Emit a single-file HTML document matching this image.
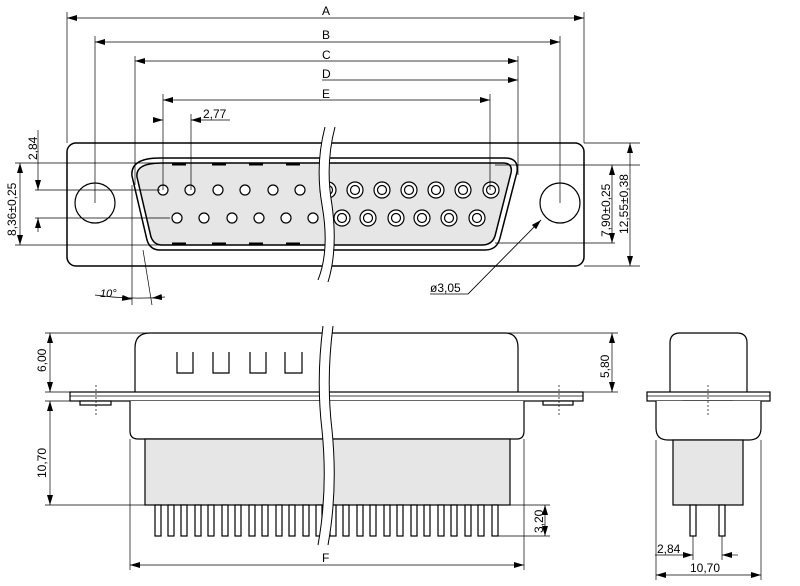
<!DOCTYPE html>
<html><head><style>body{margin:0;background:#fff}svg{display:block}</style></head><body>
<svg width="800" height="586" viewBox="0 0 800 586" xmlns="http://www.w3.org/2000/svg" font-family="Liberation Sans, sans-serif" font-size="12">
<defs>
<marker id="a" viewBox="0 0 10 6" refX="10" refY="3" markerWidth="10" markerHeight="6" orient="auto-start-reverse" markerUnits="userSpaceOnUse"><path d="M0,0L10,3L0,6z" fill="#000"/></marker>
</defs>
<g stroke="#000" fill="none" stroke-width="1.2">
<!-- TOP VIEW -->
<rect x="67" y="143" width="517" height="123" rx="9" fill="#fff" stroke-width="1.5"/>
<circle cx="95" cy="203" r="20" fill="#fff"/>
<circle cx="560" cy="203" r="20" fill="#fff"/>
<path d="M160,158 L505,158 Q519,158 517,172 L500,238 Q497,250 485,250 L160,250 Q150,250 147,240 L132,176 Q130,158 160,158z" fill="#fff" stroke-width="1.5"/>
<path d="M162,163 L503,163 Q513,163 511,173 L495,236 Q492,245 482,245 L162,245 Q154,245 151,237 L137,177 Q135,163 162,163z" fill="#e6e6e6" stroke-width="1.5"/>
<g stroke-width="3"><path d="M172,164h14M212,164h14M249,164h14M286,164h14M172,244h14M212,244h14M249,244h14M286,244h14"/></g>
<g fill="#fff">
<circle cx="163" cy="190" r="5"/><circle cx="190" cy="190" r="5"/><circle cx="218" cy="190" r="5"/><circle cx="245" cy="190" r="5"/><circle cx="273" cy="190" r="5"/><circle cx="300" cy="190" r="5"/>
<circle cx="177" cy="218" r="5"/><circle cx="204" cy="218" r="5"/><circle cx="232" cy="218" r="5"/><circle cx="259" cy="218" r="5"/><circle cx="286" cy="218" r="5"/><circle cx="313" cy="218" r="5"/>
</g>
<g fill="#fff">
<circle cx="328" cy="190" r="8"/><circle cx="355" cy="190" r="8"/><circle cx="382" cy="190" r="8"/><circle cx="409" cy="190" r="8"/><circle cx="436" cy="190" r="8"/><circle cx="463" cy="190" r="8"/><circle cx="491" cy="190" r="8"/>
<circle cx="342" cy="218" r="8"/><circle cx="368" cy="218" r="8"/><circle cx="396" cy="218" r="8"/><circle cx="422" cy="218" r="8"/><circle cx="449" cy="218" r="8"/><circle cx="477" cy="218" r="8"/>
<circle cx="328" cy="190" r="4.5"/><circle cx="355" cy="190" r="4.5"/><circle cx="382" cy="190" r="4.5"/><circle cx="409" cy="190" r="4.5"/><circle cx="436" cy="190" r="4.5"/><circle cx="463" cy="190" r="4.5"/><circle cx="491" cy="190" r="4.5"/>
<circle cx="342" cy="218" r="4.5"/><circle cx="368" cy="218" r="4.5"/><circle cx="396" cy="218" r="4.5"/><circle cx="422" cy="218" r="4.5"/><circle cx="449" cy="218" r="4.5"/><circle cx="477" cy="218" r="4.5"/>
</g>
<path d="M325,127 Q315,165 322,205 Q330,250 318,280 L328,282 Q338,250 332,205 Q325,165 335,127z" fill="#fff" stroke="none"/>
<path d="M325,127 Q315,165 322,205 Q330,250 318,280 M335,127 Q325,165 332,205 Q338,250 328,282" stroke-width="1"/>
</g>
<g stroke="#000" stroke-width="0.7" fill="none">
<path d="M67,143V12M584,143V12M95,203V36M560,203V36M135,185V56M518,175V56M518,170V75M490,190V94M163,190V94M191,190V114"/>
<path d="M67,18H584" marker-start="url(#a)" marker-end="url(#a)"/>
<path d="M95,42H560" marker-start="url(#a)" marker-end="url(#a)"/>
<path d="M135,61H518" marker-start="url(#a)" marker-end="url(#a)"/>
<path d="M322,80H518" marker-end="url(#a)"/>
<path d="M163,100H490" marker-start="url(#a)" marker-end="url(#a)"/>
<path d="M153,120H163" marker-end="url(#a)"/><path d="M201,120H191" marker-end="url(#a)"/><path d="M191,120H230"/>
<path d="M35,163H160M35,190H160M35,218H170M15,245H160M15,163H35"/>
<path d="M38,130V190"/><path d="M38,180V190" marker-end="url(#a)"/><path d="M38,228V218" marker-end="url(#a)"/><path d="M38,218V232"/>
<path d="M20,163V245" marker-start="url(#a)" marker-end="url(#a)"/>
<path d="M495,165H640M495,243H615M584,266H640M584,143H640"/>
<path d="M612,165V243" marker-start="url(#a)" marker-end="url(#a)"/>
<path d="M630,143V266" marker-start="url(#a)" marker-end="url(#a)"/>
<path d="M430,294H468L541,220" /><path d="M468,294L541,220" marker-end="url(#a)"/>
<path d="M132,185V305M143,250L152,305"/>
<path d="M95,295Q130,300 165,297"/>
<path d="M123,298L132,299" marker-end="url(#a)"/><path d="M162,297L152,298" marker-end="url(#a)"/>
</g>
<g font-size="12">
<text x="322" y="15">A</text><text x="322" y="39">B</text><text x="322" y="59">C</text><text x="322" y="78">D</text><text x="322" y="98">E</text>
<text x="203" y="118">2,77</text>
<text transform="translate(37,160) rotate(-90)">2,84</text>
<text transform="translate(16,236) rotate(-90)">8,36±0,25</text>
<text transform="translate(610,237) rotate(-90)">7,90±0,25</text>
<text transform="translate(628,234) rotate(-90)">12,55±0,38</text>
<text x="430" y="292">ø3,05</text>
<text x="100" y="297" font-style="italic" font-size="11">10°</text>
</g>
<!-- SIDE VIEW -->
<g stroke="#000" fill="none" stroke-width="1.2">
<path d="M135,392V348Q135,333 150,333H505Q518,333 518,348V392" fill="#fff"/>
<path d="M177,352v21h16v-21M213,352v21h16v-21M250,352v21h16v-21M285,352v21h17v-21"/>
<rect x="70" y="392" width="513" height="9" fill="#fff"/>
<path d="M70,396H583" stroke-width="0.8"/>
<rect x="80" y="401" width="31" height="4" fill="#fff"/><rect x="543" y="401" width="30" height="4" fill="#fff"/>
<path d="M130,401V431Q130,439 138,439H517Q524,439 524,431V401" fill="#fff"/>
<rect x="145" y="439" width="365" height="66" fill="#e6e6e6"/>
<g fill="#fff">
<rect x="155" y="505" width="6" height="31"/><rect x="168" y="505" width="6" height="31"/><rect x="181" y="505" width="6" height="31"/><rect x="195" y="505" width="6" height="31"/><rect x="208" y="505" width="6" height="31"/><rect x="222" y="505" width="6" height="31"/><rect x="235" y="505" width="6" height="31"/><rect x="249" y="505" width="6" height="31"/><rect x="262" y="505" width="6" height="31"/><rect x="276" y="505" width="6" height="31"/><rect x="289" y="505" width="6" height="31"/><rect x="303" y="505" width="6" height="31"/><rect x="316" y="505" width="6" height="31"/><rect x="330" y="505" width="6" height="31"/><rect x="343" y="505" width="6" height="31"/><rect x="357" y="505" width="6" height="31"/><rect x="370" y="505" width="6" height="31"/><rect x="384" y="505" width="6" height="31"/><rect x="397" y="505" width="6" height="31"/><rect x="411" y="505" width="6" height="31"/><rect x="424" y="505" width="6" height="31"/><rect x="438" y="505" width="6" height="31"/><rect x="451" y="505" width="6" height="31"/><rect x="465" y="505" width="6" height="31"/><rect x="478" y="505" width="6" height="31"/><rect x="492" y="505" width="6" height="31"/>
</g>
<path d="M323,326 Q316,380 322,430 Q328,490 318,545 L328,545 Q338,490 332,430 Q326,380 333,326z" fill="#fff" stroke="none"/>
<path d="M323,326 Q316,380 322,430 Q328,490 318,545 M333,326 Q326,380 332,430 Q338,490 328,545" stroke-width="1"/>
<!-- END VIEW -->
<path d="M670,392V343Q670,333 680,333H737Q747,333 747,343V392" fill="#fff"/>
<rect x="647" y="392" width="123" height="9" fill="#fff"/>
<path d="M647,396H770" stroke-width="0.8"/>
<rect x="683" y="401" width="49" height="4" fill="#fff"/>
<path d="M656,401V428Q656,440 668,440H749Q761,440 761,428V401" fill="#fff"/>
<rect x="673" y="440" width="70" height="65" fill="#e6e6e6"/>
<rect x="690" y="505" width="6" height="31" fill="#fff"/><rect x="719" y="505" width="6" height="31" fill="#fff"/>
</g>
<g stroke="#000" stroke-width="0.7" fill="none">
<path d="M96,385V415M559,385V415M708,385V415" stroke-dasharray="2,2"/>
<path d="M45,333H150M45,392H70M45,401H70M45,505H145"/>
<path d="M50,333V392" marker-start="url(#a)" marker-end="url(#a)"/>
<path d="M50,401V505" marker-start="url(#a)" marker-end="url(#a)"/>
<path d="M505,333H618M583,392H618"/>
<path d="M612,333V392" marker-start="url(#a)" marker-end="url(#a)"/>
<path d="M498,505H550M498,536H550"/>
<path d="M545,505V536" marker-start="url(#a)" marker-end="url(#a)"/>
<path d="M130,439V570M524,439V570"/>
<path d="M130,565H524" marker-start="url(#a)" marker-end="url(#a)"/>
<path d="M656,440V580M761,440V580M693,536V560M722,536V560"/>
<path d="M655,555H693" marker-end="url(#a)"/><path d="M738,555H722" marker-end="url(#a)"/>
<path d="M656,575H761" marker-start="url(#a)" marker-end="url(#a)"/>
</g>
<text x="322" y="562">F</text>
<text transform="translate(46,372) rotate(-90)">6,00</text>
<text transform="translate(46,478) rotate(-90)">10,70</text>
<text transform="translate(609,378) rotate(-90)">5,80</text>
<text transform="translate(543,533) rotate(-90)">3,20</text>
<text x="657" y="553">2,84</text>
<text x="690" y="572">10,70</text>
</svg>
</body></html>
